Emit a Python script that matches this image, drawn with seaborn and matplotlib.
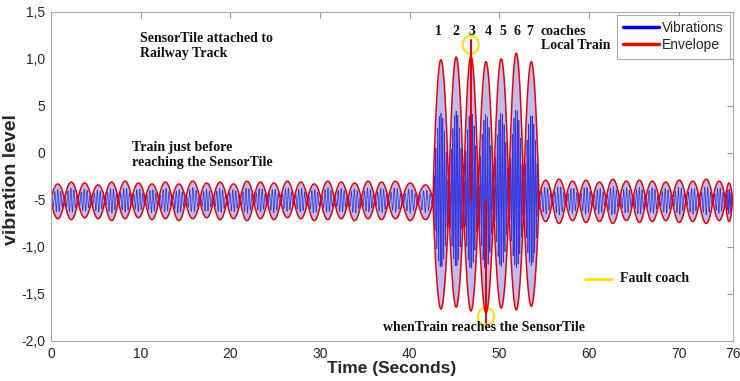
import numpy as np
import pandas as pd
import matplotlib
matplotlib.use('Agg')
import matplotlib.pyplot as plt
from matplotlib.lines import Line2D
from matplotlib.patches import Ellipse
import seaborn as sns

# lobe boundaries (s) and envelope extremes
lobe_edges = [0.0, 1.5, 3.0, 4.5, 6.0, 7.5, 9.0, 10.5, 12.0, 13.5, 15.0, 16.6, 18.1, 19.6,
              21.1, 22.6, 24.1, 25.6, 27.1, 28.6, 30.1, 31.6, 33.1, 34.6, 36.1, 37.6, 39.2,
              40.9, 42.6, 44.35, 46.0, 47.65, 49.35, 51.05, 52.7, 54.4, 55.9, 57.4, 58.9,
              60.4, 61.9, 63.4, 64.9, 66.3, 67.8, 69.3, 70.8, 72.3, 73.8, 75.2, 76.0]
lobe_top = [-0.33, -0.31, -0.32, -0.34, -0.31, -0.30, -0.32, -0.33, -0.31, -0.33, -0.30,
            -0.32, -0.31, -0.33, -0.30, -0.31, -0.32, -0.30, -0.31, -0.33, -0.30, -0.31,
            -0.32, -0.30, -0.31, -0.30, -0.32, -0.34,
            0.99, 1.02, 1.03, 0.97, 1.00, 1.06, 0.97,
            -0.29, -0.28, -0.30, -0.29, -0.31, -0.28, -0.30, -0.29, -0.30, -0.31, -0.29,
            -0.30, -0.28, -0.30, -0.32]
lobe_bot = [-0.70, -0.71, -0.69, -0.70, -0.72, -0.70, -0.69, -0.71, -0.70, -0.72, -0.70,
            -0.69, -0.71, -0.70, -0.72, -0.70, -0.71, -0.69, -0.70, -0.72, -0.71, -0.70,
            -0.72, -0.70, -0.71, -0.70, -0.72, -0.71,
            -1.66, -1.64, -1.68, -1.70, -1.65, -1.67, -1.63,
            -0.73, -0.75, -0.72, -0.74, -0.73, -0.75, -0.72, -0.74, -0.73, -0.72, -0.74,
            -0.73, -0.75, -0.72, -0.73]
baseline = -0.5

# fault spikes
spike_t = [46.8, 48.5]
spike_y = [1.20, -1.81]

xticks = [0, 10, 20, 30, 40, 50, 60, 70, 76]
yticks = [-2.0, -1.5, -1.0, -0.5, 0.0, 0.5, 1.0, 1.5]
ylabels = ['-2,0', '-1,5', '-1,0', '-5', '0', '5', '1,0', '1,5']

# build curves lobe by lobe
tt, up, lo, vib = [], [], [], []
for i in range(len(lobe_top)):
    a, b = lobe_edges[i], lobe_edges[i + 1]
    big = lobe_top[i] > 0
    n = 200 if big else 70
    u = np.linspace(0, 1, n)
    s = np.sin(np.pi * u) ** 0.8
    t = a + (b - a) * u
    top = baseline + (lobe_top[i] - baseline) * s
    bot = baseline + (lobe_bot[i] - baseline) * s
    cyc = 9 if big else 4.5
    amp = 0.62 if big else 0.65
    c = np.sin(2 * np.pi * cyc * u + 0.6 * i)
    v = np.where(c > 0, baseline + c * (top - baseline) * amp,
                 baseline + c * (baseline - bot) * amp)
    tt.append(t); up.append(top); lo.append(bot); vib.append(v)
tt = np.concatenate(tt); up = np.concatenate(up); lo = np.concatenate(lo); vib = np.concatenate(vib)

df = pd.DataFrame({'t': tt, 'up': up, 'lo': lo, 'vib': vib})

sns.set_style('white')
fig = plt.figure(figsize=(7.4, 3.81), dpi=100)
ax = fig.add_axes([0.069, 0.105, 0.921, 0.864])

ax.fill_between(df['t'], df['lo'], df['up'], color='#bcbcf2', lw=0)
sns.lineplot(x='t', y='vib', data=df, ax=ax, color='#2020d8', lw=0.55, alpha=0.85,
             sort=False, estimator=None)
sns.lineplot(x='t', y='up', data=df, ax=ax, color='#ee0000', lw=1.1, sort=False, estimator=None)
sns.lineplot(x='t', y='lo', data=df, ax=ax, color='#ee0000', lw=1.1, sort=False, estimator=None)
for st, sy in zip(spike_t, spike_y):
    ax.plot([st, st], [baseline, sy], color='#ee0000', lw=1.4)

ax.set_xlim(0, 76)
ax.set_ylim(-2.0, 1.5)
ax.set_xticks(xticks)
ax.set_xticklabels([str(x) for x in xticks])
ax.set_yticks(yticks)
ax.set_yticklabels(ylabels)
ax.tick_params(direction='in', length=4, color='#999999', labelsize=10, pad=4,
               top=True, right=True)
for lab in ax.get_xticklabels() + ax.get_yticklabels():
    lab.set_family('Liberation Sans')
for sp in ax.spines.values():
    sp.set_color('#aaaaaa')
    sp.set_linewidth(0.8)

ax.set_xlabel('Time (Seconds)', fontsize=12.5, fontweight='bold', family='Liberation Sans', labelpad=0)
ax.set_ylabel('vibration level', fontsize=14, fontweight='bold', family='Liberation Sans',
              va='center')
ax.yaxis.set_label_coords(-0.058, 0.49)

serif = dict(family='Liberation Serif', fontweight='bold', fontsize=10, color='#111111')
ax.text(9.95, 1.22, 'SensorTile attached to', va='center', **serif)
ax.text(9.95, 1.06, 'Railway Track', va='center', **serif)
ax.text(9.05, 0.06, 'Train just before', va='center', **serif)
ax.text(9.05, -0.10, 'reaching the SensorTile', va='center', **serif)
for k, xk in enumerate([43.2, 45.1, 46.9, 48.7, 50.4, 52.0, 53.4]):
    ax.text(xk, 1.29, str(k + 1), ha='center', va='center', **serif)
ax.text(54.6, 1.29, 'coaches', va='center', **serif)
ax.text(54.6, 1.14, 'Local Train', va='center', **serif)
ax.text(48.3, -1.86, 'whenTrain reaches the SensorTile', ha='center', va='center', **serif)
ax.plot([59.5, 62.5], [-1.34, -1.34], color='#ffe000', lw=2)
ax.text(63.4, -1.34, 'Fault coach', va='center', **serif)
ax.add_patch(Ellipse((46.8, 1.15), 1.8, 0.19, fill=False, ec='#ffe000', lw=1.5))
ax.add_patch(Ellipse((48.5, -1.74), 1.8, 0.19, fill=False, ec='#ffe000', lw=1.5))

handles = [Line2D([], [], color='#0000ee', lw=2.5), Line2D([], [], color='#ee0000', lw=2.5)]
leg = ax.legend(handles, ['Vibrations', 'Envelope'], loc='upper right', fancybox=False,
                prop={'family': 'Liberation Sans', 'size': 10}, handlelength=2.6,
                handletextpad=0.2, borderpad=0.45, labelspacing=0.25, borderaxespad=0.2)
leg.get_frame().set_edgecolor('#999999')
leg.get_frame().set_linewidth(0.8)

fig.savefig('out.png', dpi=100)
